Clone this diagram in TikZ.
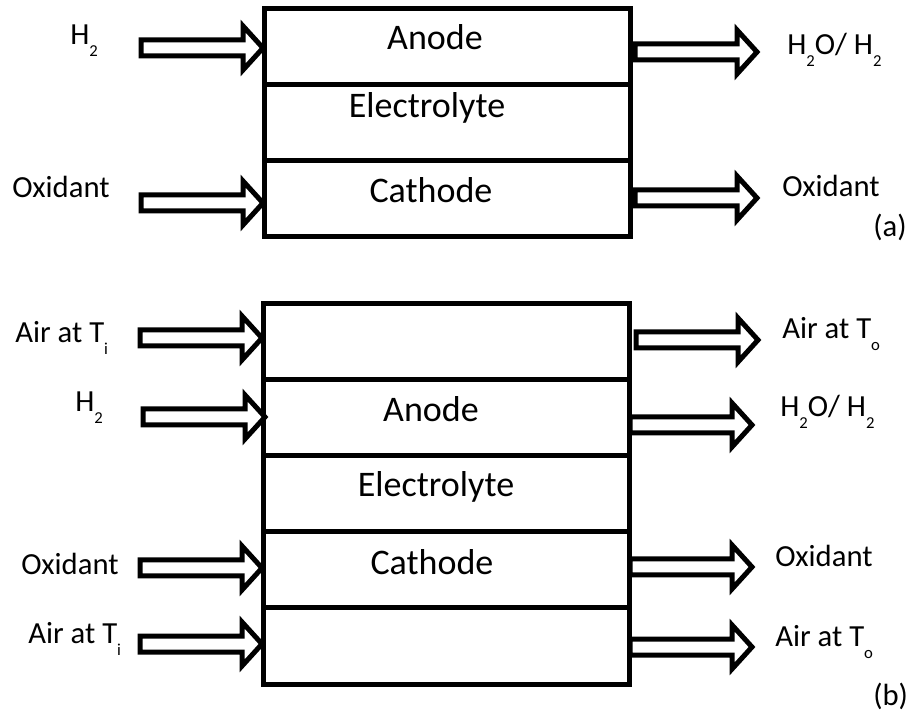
\documentclass[tikz,border=0pt]{standalone}
\usepackage{fontspec}
\setmainfont{Carlito}
\newcommand{\lowsub}[1]{\raisebox{-9pt}{\fontsize{12.5pt}{12.5pt}\selectfont #1}}
\tikzset{
    layer/.style={draw, line width=3.75pt, minimum width=274.5pt, minimum height=57pt, inner sep=0pt},
    layertext/.style={anchor=base, inner sep=0pt, font=\fontsize{27pt}{27pt}\selectfont},
    sidetext/.style={anchor=base west, inner sep=0pt, font=\fontsize{23pt}{23pt}\selectfont},
    arrowline/.style={draw, line width=3.75pt, fill=white},
    flow/.pic={\draw[arrowline] (-122,-8) -- (-20,-8) -- (-20,-22) -- (0,0) -- (-20,22) -- (-20,8) -- (-122,8) -- cycle;}
}
\begin{document}
\begin{tikzpicture}[x=0.75pt, y=-0.75pt]
        \useasboundingbox (0,0) rectangle (907,712);
        % (a)
        \node[layer] (anodeA) at (447,47) {};
        \node[layer] (electA) at (447,123) {};
        \node[layer] (cathA) at (447,199) {};
        \node[layertext] (anodeAtxt) at (435,50) {Anode};
        \node[layertext] (electAtxt) at (427,118) {Electrolyte};
        \node[layertext] (cathAtxt) at (431,203) {Cathode};
        \pic at (263,48) {flow};
        \pic at (263,203) {flow};
        \pic at (757,52) {flow};
        \pic at (757,198) {flow};
        \node[sidetext] (hinA) at (70,45) {H\lowsub{2}};
        \node[sidetext] (oxinA) at (12,198) {Oxidant};
        \node[sidetext] (houtA) at (787,55) {H\lowsub{2}O/ H\lowsub{2}};
        \node[sidetext] (oxoutA) at (782,197) {Oxidant};
        \node[sidetext] (capA) at (873,237) {(a)};
        % (b)
        \node[layer] (airtopB) at (446,342) {};
        \node[layer] (anodeB) at (446,418) {};
        \node[layer] (electB) at (446,494) {};
        \node[layer] (cathB) at (446,570) {};
        \node[layer] (airbotB) at (446,646) {};
        \node[layertext] (anodeBtxt) at (431,422) {Anode};
        \node[layertext] (electBtxt) at (436,497) {Electrolyte};
        \node[layertext] (cathBtxt) at (432,575) {Cathode};
        \pic at (262,338) {flow};
        \pic at (265,417) {flow};
        \pic at (262,568) {flow};
        \pic at (262,644) {flow};
        \pic at (758,340) {flow};
        \pic at (752,425) {flow};
        \pic at (752,567) {flow};
        \pic at (752,647) {flow};
        \node[sidetext] (airinB) at (15,343) {Air at T\lowsub{i}};
        \node[sidetext] (hinB) at (75,412) {H\lowsub{2}};
        \node[sidetext] (oxinB) at (21,575) {Oxidant};
        \node[sidetext] (airinbB) at (28,643) {Air at T\lowsub{i}};
        \node[sidetext] (airoutB) at (782,339) {Air at T\lowsub{o}};
        \node[sidetext] (houtB) at (780,417) {H\lowsub{2}O/ H\lowsub{2}};
        \node[sidetext] (oxoutB) at (775,566) {Oxidant};
        \node[sidetext] (airoutbB) at (775,647) {Air at T\lowsub{o}};
        \node[sidetext] (capB) at (873,705) {(b)};
    \end{tikzpicture}
\end{document}
